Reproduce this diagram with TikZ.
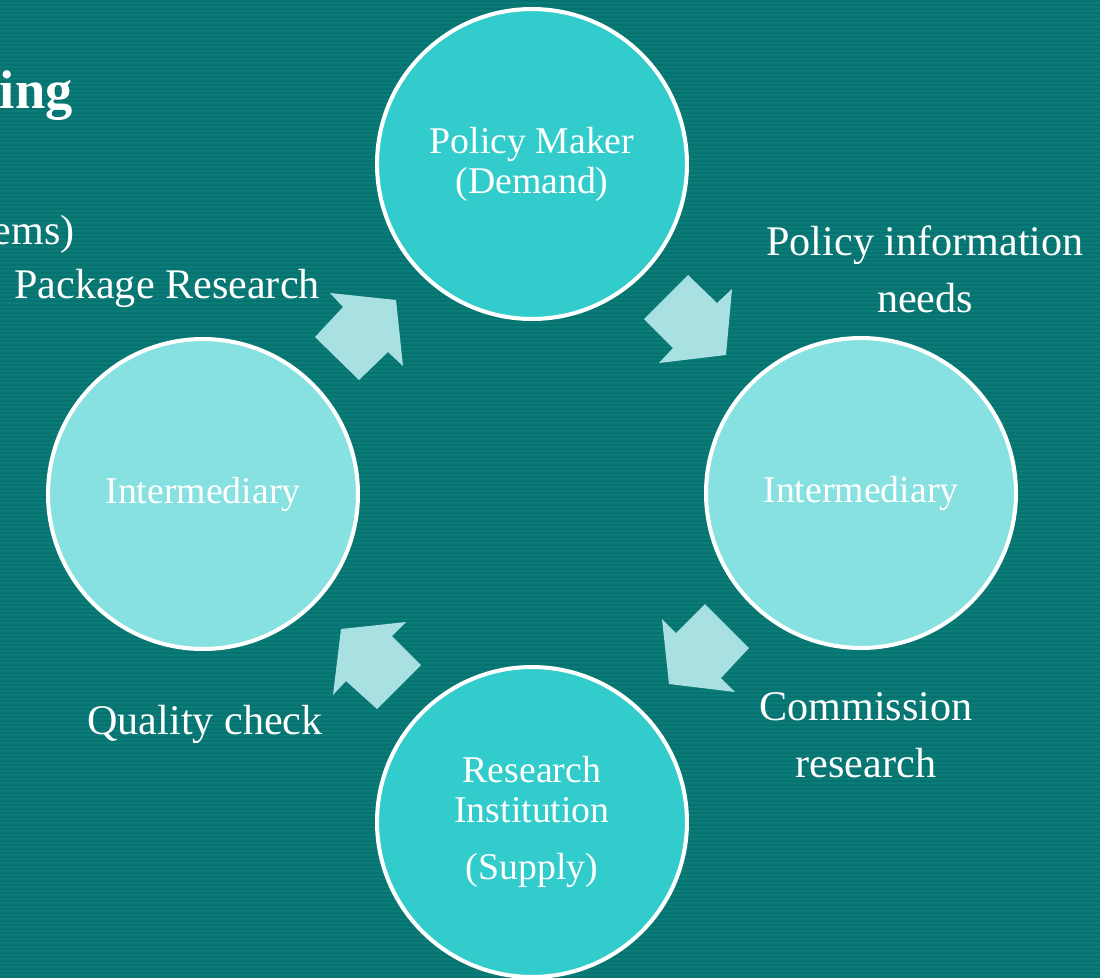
\documentclass[tikz,border=0pt]{standalone}
\usepackage{fontspec}
\setmainfont{Liberation Serif}
\definecolor{bgteal}{HTML}{0B7B77}
\definecolor{bgstripe}{HTML}{077370}
\definecolor{darkcirc}{HTML}{33CCCC}
\definecolor{lightcirc}{HTML}{86E1E0}
\definecolor{arrowfill}{HTML}{A9E1E2}
\tikzset{
  circ/.style={circle, draw=white, line width=2.3pt, minimum size=6.2cm, inner sep=0pt,
    text=white, align=center, font=\fontsize{21.5pt}{22.7pt}\selectfont},
  dark/.style={circ, fill=darkcirc},
  light/.style={circ, fill=lightcirc},
  lbl/.style={text=white, align=center, inner sep=0pt, font=\fontsize{24pt}{32.3pt}\selectfont},
  blockarrow/.style={fill=arrowfill, draw=none}
}
\begin{document}
\begin{tikzpicture}[x=0.02cm, y=-0.02cm]
\useasboundingbox (0,0) rectangle (1100,978);
\clip (0,0) rectangle (1100,978);
\fill[bgteal] (0,0) rectangle (1100,978);
\foreach \k in {0,4,...,976} { \fill[bgstripe] (0,\k) rectangle (1100,\k+2); }

% circles
\node[dark]  (pm)  at (532,164) {Policy Maker\\(Demand)};
\node[light] (imr) at (861,493) {Intermediary};
\node[dark]  (ri)  at (532,822) {Research\\Institution\\[9.6pt](Supply)};
\node[light] (iml) at (203,494) {Intermediary};

% block arrows
\fill[blockarrow] (688,275) -- (644,319) -- (673,348) -- (659,363) -- (726,355) -- (732,289) -- (717,303) -- cycle;
\fill[blockarrow] (705,604) -- (749,648) -- (721,678) -- (735,692) -- (669,684) -- (662,619) -- (676,633) -- cycle;
\fill[blockarrow] (406,622) -- (341,629) -- (333,695) -- (346,681) -- (377,709) -- (421,665) -- (392,636) -- cycle;
\fill[blockarrow] (330,293) -- (396,300) -- (403,366) -- (388,352) -- (359,380) -- (315,337) -- (343,307) -- cycle;

% labels (base anchor = baseline of last line)
\node[lbl, anchor=base] (lpin) at (925,312) {Policy information\\needs};
\node[lbl, anchor=base] (lcr) at (866,777) {Commission\\research};
\node[lbl, anchor=base] (lqc) at (205,734) {Quality check};
\node[lbl, anchor=base] (lpr) at (167,298) {Package Research};

% cut-off title remnants
\node[text=white, inner sep=0pt, anchor=base east, font=\fontsize{31pt}{36pt}\selectfont\bfseries] (title) at (73,108) {ing};
\node[text=white, inner sep=0pt, anchor=base east, font=\fontsize{24pt}{30pt}\selectfont] (sub) at (75,244) {ems)};
\end{tikzpicture}
\end{document}
